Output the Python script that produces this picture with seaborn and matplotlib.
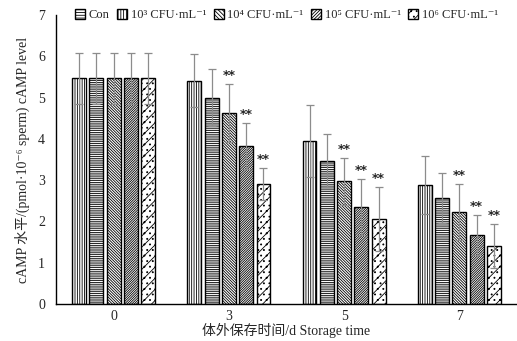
import numpy as np
import pandas as pd
import matplotlib
matplotlib.use("Agg")
import matplotlib.pyplot as plt
import seaborn as sns
from matplotlib.patches import Patch

# Data
days = ["0", "3", "5", "7"]
groups = ["Con", "10³ CFU·mL⁻¹", "10⁴ CFU·mL⁻¹", "10⁵ CFU·mL⁻¹", "10⁶ CFU·mL⁻¹"]
con = [5.47, 5.41, 3.95, 2.88]
g3 = [5.47, 5.00, 3.47, 2.57]
g4 = [5.47, 4.63, 2.97, 2.22]
g5 = [5.47, 3.83, 2.34, 1.67]
g6 = [5.47, 2.90, 2.06, 1.41]
sd_con = [0.62, 0.65, 0.88, 0.70]
sd_g3 = [0.62, 0.70, 0.64, 0.61]
sd_g4 = [0.62, 0.70, 0.56, 0.68]
sd_g5 = [0.62, 0.56, 0.68, 0.48]
sd_g6 = [0.62, 0.39, 0.77, 0.53]
# significance marks per group (days 0,3,5,7)
sig = {"10⁴ CFU·mL⁻¹": ["", "**", "**", "**"],
       "10⁵ CFU·mL⁻¹": ["", "**", "**", "**"],
       "10⁶ CFU·mL⁻¹": ["", "**", "**", "**"]}

hatches = ["|" * 7, "-" * 9, "\\" * 12, "/" * 14, "///" + "..."]

means = [con, g3, g4, g5, g6]
sds = [sd_con, sd_g3, sd_g4, sd_g5, sd_g6]
rows = []
for g, m, s in zip(groups, means, sds):
    for d, v, e in zip(days, m, s):
        rows.append({"day": d, "group": g, "value": v, "sd": e})
df = pd.DataFrame(rows)

sns.set_style("white")
fonts = ["Liberation Serif", "Noto Sans CJK SC", "DejaVu Serif"]
plt.rcParams["font.family"] = fonts
plt.rcParams["hatch.linewidth"] = 0.6
plt.rcParams["hatch.color"] = "black"

fig = plt.figure(figsize=(5.17, 3.41), dpi=100)
ax = fig.add_axes([56 / 517, 37 / 341, 461 / 517, 289 / 341])

sns.barplot(data=df, x="day", y="value", hue="group", order=days, hue_order=groups,
            width=0.75, gap=0.2, errorbar=None, ax=ax, legend=False,
            palette=["white"] * 5, edgecolor="black", linewidth=1.0)

# hatch + error bars, using the patch positions seaborn made
bar_conts = list(ax.containers)
for gi, cont in enumerate(bar_conts):
    g = groups[gi]
    sub = df[df["group"] == g].set_index("day").loc[days]
    xs = []
    for bar in cont:
        bar.set_facecolor("white")
        bar.set_hatch(hatches[gi])
        xs.append(bar.get_x() + bar.get_width() / 2)
    ax.errorbar(xs, sub["value"], yerr=sub["sd"], fmt="none", ecolor="#8c8c8c",
                elinewidth=0.9, capsize=3, capthick=0.9, zorder=3)
    if g in sig:
        for x, v, e, s in zip(xs, sub["value"], sub["sd"], sig[g]):
            if s:
                ax.text(x, v + e + 0.05, s, ha="center", va="bottom",
                        fontsize=9, fontweight="bold", family="DejaVu Sans")

ax.set_ylim(0, 7)
ax.set_xlim(-0.5, 3.5)
ax.set_yticks(range(0, 8))
ax.tick_params(axis="both", length=0, labelsize=10)
ax.tick_params(axis="y", pad=8)
ax.tick_params(axis="x", pad=4)
sns.despine(ax=ax)
for sp in ["left", "bottom"]:
    ax.spines[sp].set_color("black")
    ax.spines[sp].set_linewidth(1.0)

ax.set_ylabel("cAMP 水平/(pmol·10⁻⁶ sperm) cAMP level", fontsize=10, labelpad=6)
ax.set_xlabel("体外保存时间/d Storage time", fontsize=10, labelpad=0)

# legend (icons as in the original figure)
leg_hatch = ["-" * 6, "|" * 6, "\\" * 8, "/" * 10, "///..."]
handles = [Patch(facecolor="white", edgecolor="black", hatch=h, linewidth=1.0) for h in leg_hatch]
ax.legend(handles, groups, loc="center", bbox_to_anchor=(0.5, 1.0), ncol=5,
          frameon=False, fontsize=9, handlelength=0.8, handleheight=0.8,
          handletextpad=0.3, columnspacing=0.6, borderaxespad=0)

fig.savefig("out.png", dpi=100)
